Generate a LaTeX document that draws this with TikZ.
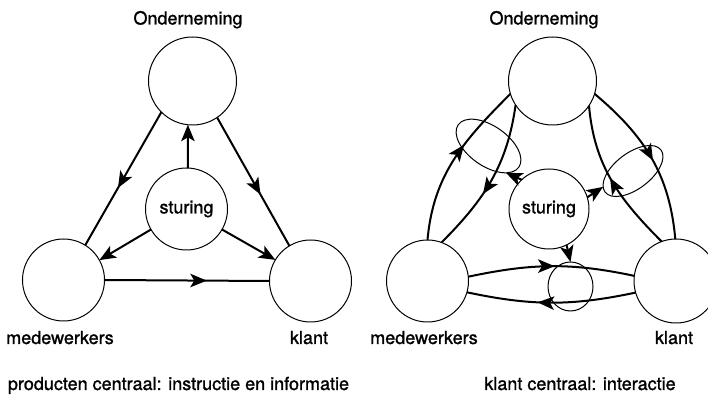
\documentclass[tikz,border=0pt]{standalone}
\usepackage{fontspec}
\setmainfont{TeX Gyre Heros}
\usetikzlibrary{arrows.meta,decorations.markings,shapes.geometric}
\tikzset{
  ent/.style={circle, draw, line width=1pt, inner sep=0pt, outer sep=0pt},
  ring/.style={ellipse, draw, line width=1pt, inner sep=0pt, outer sep=0pt},
  lbl/.style={anchor=base},
  conn/.style={line width=2pt},
  midarrow/.style={postaction={decorate}, decoration={markings, mark=at position #1 with {\arrow{Stealth[length=16.5pt,width=13.5pt,inset=4pt]}}}},
  tipend/.style={-{Stealth[length=16.5pt,width=13.5pt,inset=4pt]}},
}
\begin{document}
\begin{tikzpicture}[x=1pt,y=1pt,font=\fontsize{18}{21}\selectfont\addfontfeatures{FakeBold=1.2}]
\useasboundingbox (0,0) rectangle (708,398);
% left diagram
\node[ent, minimum size=88pt] (O1) at (192.5,317) {};
\node[ent, minimum size=82pt] (S1) at (186.5,189) {sturing};
\node[ent, minimum size=82pt] (M1) at (63.5,118) {};
\node[ent, minimum size=82pt] (K1) at (310.5,117) {};
\node[lbl] (tO1) at (188,373.5) {Onderneming};
\node[lbl] (tM1) at (60,54) {medewerkers};
\node[lbl] (tK1) at (309,54) {klant};
\node[lbl] (cap1) at (178.5,8) {producten centraal: instructie en informatie};
\draw[conn, midarrow=0.57] (O1.225) -- (M1.58);
\draw[conn, midarrow=0.6] (O1.-56) -- (K1.121);
\draw[conn, tipend] (S1.88) -- (O1.264);
\draw[conn, tipend] (S1.210) -- (M1.29);
\draw[conn, tipend] (S1.-30) -- (K1.149);
\draw[conn, midarrow=0.62] (M1.east) -- (K1.west);
% right diagram
\node[ent, minimum size=88pt] (O2) at (552.5,317) {};
\node[ent, minimum size=80pt] (S2) at (549,189) {sturing};
\node[ent, minimum size=82pt] (M2) at (427.5,117) {};
\node[ent, minimum size=84pt] (K2) at (676,117) {};
\node[ring, minimum width=74pt, minimum height=40pt, rotate=-35] (E1) at (488.5,252) {};
\node[ring, minimum width=70pt, minimum height=36pt, rotate=37] (E2) at (633,227) {};
\node[ring, minimum width=45pt, minimum height=49pt] (C3) at (570.5,111.5) {};
\node[lbl] (tO2) at (544,373.5) {Onderneming};
\node[lbl] (tM2) at (424,54) {medewerkers};
\node[lbl] (tK2) at (674,54) {klant};
\node[lbl] (cap2) at (580,8) {klant centraal: interactie};
\draw[conn, midarrow=0.6] (M2.90) to[out=85,in=225] (O2.197);
\draw[conn, midarrow=0.6] (O2.213) to[out=262,in=45] (M2.70);
\draw[conn, midarrow=0.52] (O2.-17) to[out=-40,in=95] (K2.91);
\draw[conn, midarrow=0.52] (K2.110) to[out=135,in=-85] (O2.-34);
\draw[conn, tipend] (S2.133) -- (E1.-22);
\draw[conn, tipend] (S2.17) -- (E2.171);
\draw[conn, tipend] (S2.-64) -- (C3.north);
\draw[conn, midarrow=0.52] (M2.6) to[out=12,in=168] (K2.173);
\draw[conn, midarrow=0.58] (K2.196) to[out=192,in=-12] (M2.-16);
\end{tikzpicture}
\end{document}
